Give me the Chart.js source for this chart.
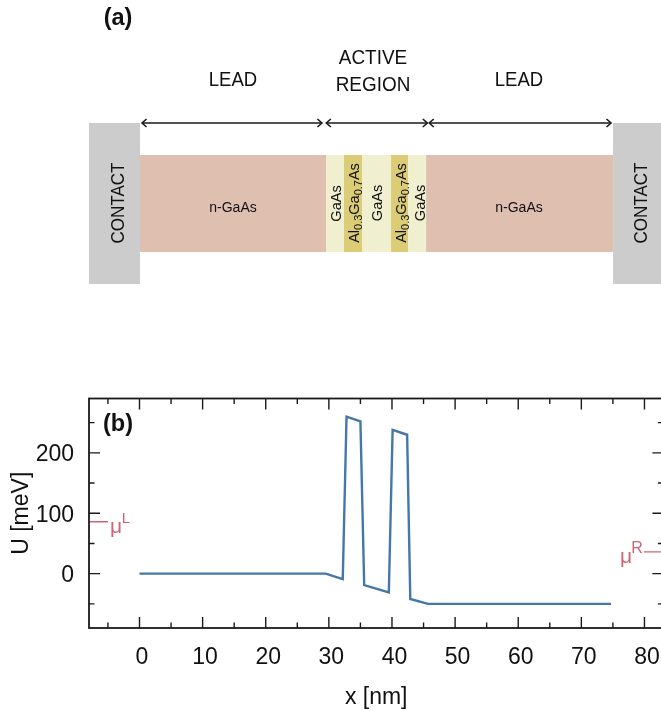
<!DOCTYPE html>
<html>
<head>
<meta charset="utf-8">
<style>
  html, body { margin: 0; padding: 0; background: #fff; overflow: hidden; }
  #wrap { position: relative; width: 661px; height: 711px; overflow: hidden; }
  canvas { position: absolute; left: 0; }
  #schema { top: 0; }
  #potential { top: 300px; }
</style>
<script src="https://cdn.jsdelivr.net/npm/chart.js@4"></script>
</head>
<body>
<div id="wrap">
  <canvas id="schema" width="680" height="300"></canvas>
  <canvas id="potential" width="680" height="411"></canvas>
</div>
<script>
// panel (a): device layout, x in nm, y on a hidden schematic axis
const layerEdges = [0.08, 29.55, 32.4, 35.25, 39.85, 42.55, 45.4, 75.02];
const layerColors = ["#dfbfb0", "#f0efcf", "#dbcc75", "#f0efcf", "#dbcc75", "#f0efcf", "#dfbfb0"];
const layerY = [155, 252];
const contactSpans = [[-8, 0.08], [75.02, 83]];
const contactY = [123, 284];
const arrowSpans = [[0.4, 28.9], [29.6, 45.6], [45.9, 74.7]];
const arrowY = 123;

// panel (b): conduction band profile
const potentialX = [0, 29.5, 32.2, 32.8, 35.0, 35.6, 39.5, 40.1, 42.4, 42.9, 45.7, 74.7];
const potentialU = [0, 0, -9, 260, 252, -19, -31, 238, 230, -42, -50, -50];
const muLeftX = [-8, -5];
const muLeftU = [86, 86];
const muRightX = [79.9, 83];
const muRightU = [36, 36];

const xTicks = [0, 10, 20, 30, 40, 50, 60, 70, 80];
const xMinorTicks = [-5, 5, 15, 25, 35, 45, 55, 65, 75];
const yTicks = [0, 100, 200];
const yMinorTicks = [-50, 50, 150, 250];

const FONT = '"Liberation Sans", Arial, sans-serif';
const INK = "#1a1a1a";
const MU_COLOR = "#cc6677";

function toPoints(xs, ys) {
  return xs.map((x, i) => ({ x, y: ys[i] }));
}

function band(x0, x1, yRange, color) {
  return {
    data: [{ x: x0, y: yRange[0] }, { x: x1, y: yRange[0] }],
    showLine: true,
    fill: { value: yRange[1] },
    backgroundColor: color,
    borderWidth: 0,
    pointRadius: 0
  };
}

function drawText(ctx, text, x, y, size, opts = {}) {
  ctx.save();
  ctx.translate(x, y);
  if (opts.rotate) ctx.rotate(-Math.PI / 2);
  if (opts.squeeze) ctx.scale(opts.squeeze, 1);
  ctx.font = `${opts.bold ? "bold " : ""}${size}px ${FONT}`;
  ctx.fillStyle = opts.color || "#111111";
  ctx.textAlign = "center";
  ctx.textBaseline = "middle";
  ctx.fillText(text, 0, 0);
  ctx.restore();
}

// Al0.3Ga0.7As with real subscripts, rotated
function drawAlloy(ctx, x, y) {
  const runs = [["Al", 14.5, 0], ["0.3", 11, 3], ["Ga", 14.5, 0], ["0.7", 11, 3], ["As", 14.5, 0]];
  ctx.save();
  ctx.translate(x, y);
  ctx.rotate(-Math.PI / 2);
  ctx.fillStyle = "#111111";
  ctx.textBaseline = "alphabetic";
  ctx.textAlign = "left";
  let total = 0;
  runs.forEach(([t, s]) => {
    ctx.font = `${s}px ${FONT}`;
    total += ctx.measureText(t).width;
  });
  let pos = -total / 2;
  runs.forEach(([t, s, dy]) => {
    ctx.font = `${s}px ${FONT}`;
    ctx.fillText(t, pos, 5 + dy);
    pos += ctx.measureText(t).width;
  });
  ctx.restore();
}

function drawChevron(ctx, x, y, dir) {
  ctx.beginPath();
  ctx.moveTo(x + dir * 4.5, y - 4);
  ctx.lineTo(x, y);
  ctx.lineTo(x + dir * 4.5, y + 4);
  ctx.stroke();
}

const schemaLabels = {
  id: "schemaLabels",
  afterDatasetsDraw(chart) {
    const { ctx, scales: { x, y } } = chart;
    ctx.save();
    ctx.strokeStyle = INK;
    ctx.lineWidth = 1.6;
    arrowSpans.forEach(([a, b]) => {
      drawChevron(ctx, x.getPixelForValue(a), y.getPixelForValue(arrowY), 1);
      drawChevron(ctx, x.getPixelForValue(b), y.getPixelForValue(arrowY), -1);
    });
    ctx.restore();

    drawText(ctx, "(a)", 118, 18, 24, { bold: true, squeeze: 0.98 });
    drawText(ctx, "LEAD", 233, 81, 19.5, { squeeze: 0.95 });
    drawText(ctx, "LEAD", 519, 81, 19.5, { squeeze: 0.95 });
    drawText(ctx, "ACTIVE", 373, 59, 19.5, { squeeze: 0.97 });
    drawText(ctx, "REGION", 373, 86, 19.5, { squeeze: 0.97 });
    drawText(ctx, "CONTACT", 118.5, 203, 18.5, { rotate: true, squeeze: 0.92 });
    drawText(ctx, "CONTACT", 641.5, 203, 18.5, { rotate: true, squeeze: 0.92 });
    drawText(ctx, "n-GaAs", 233, 208, 14);
    drawText(ctx, "n-GaAs", 519, 208, 14);
    drawText(ctx, "GaAs", 337, 203.5, 14.5, { rotate: true });
    drawText(ctx, "GaAs", 378, 203, 14.5, { rotate: true });
    drawText(ctx, "GaAs", 421, 203, 14.5, { rotate: true });
    drawAlloy(ctx, 354, 203);
    drawAlloy(ctx, 401, 203);
  }
};

const frameAndTicks = {
  id: "frameAndTicks",
  afterDatasetsDraw(chart) {
    const { ctx, chartArea: a, scales: { x, y } } = chart;
    ctx.save();
    ctx.strokeStyle = INK;
    ctx.lineWidth = 1.8;
    ctx.strokeRect(a.left, a.top, a.right - a.left, a.bottom - a.top);
    ctx.lineWidth = 1.4;
    const tickX = (v, len) => {
      const p = x.getPixelForValue(v);
      ctx.beginPath();
      ctx.moveTo(p, a.bottom);
      ctx.lineTo(p, a.bottom - len);
      ctx.moveTo(p, a.top);
      ctx.lineTo(p, a.top + len);
      ctx.stroke();
    };
    const tickY = (v, len) => {
      const p = y.getPixelForValue(v);
      ctx.beginPath();
      ctx.moveTo(a.left, p);
      ctx.lineTo(a.left + len, p);
      ctx.moveTo(a.right, p);
      ctx.lineTo(a.right - len, p);
      ctx.stroke();
    };
    xTicks.forEach(v => tickX(v, 11));
    xMinorTicks.forEach(v => tickX(v, 5.5));
    yTicks.forEach(v => tickY(v, 11));
    yMinorTicks.forEach(v => tickY(v, 5.5));
    ctx.restore();

    drawText(ctx, "(b)", 118, 124, 24, { bold: true, squeeze: 0.98 });
    // chemical potentials
    const muY = y.getPixelForValue(muLeftU[0]);
    drawText(ctx, "\u03bc", 116, muY + 5, 21, { color: MU_COLOR });
    drawText(ctx, "L", 126, muY - 3, 15, { color: MU_COLOR });
    const muRY = y.getPixelForValue(muRightU[0]);
    drawText(ctx, "\u03bc", 626, muRY + 5, 21, { color: MU_COLOR });
    drawText(ctx, "R", 637, muRY - 3, 16, { color: MU_COLOR });
  }
};

new Chart(document.getElementById("schema"), {
  type: "scatter",
  data: {
    datasets: [
      ...contactSpans.map(([a, b]) => band(a, b, contactY, "#cccccc")),
      ...layerColors.map((c, i) => band(layerEdges[i], layerEdges[i + 1], layerY, c)),
      ...arrowSpans.map(([a, b]) => ({
        data: [{ x: a, y: arrowY }, { x: b, y: arrowY }],
        showLine: true,
        borderColor: INK,
        borderWidth: 1.6,
        pointRadius: 0
      }))
    ]
  },
  options: {
    responsive: false,
    animation: false,
    layout: { padding: { left: 89, right: 16.6, top: 0, bottom: 0 } },
    scales: {
      x: { type: "linear", display: false, min: -8, max: 83 },
      y: { type: "linear", display: false, min: 0, max: 300, reverse: true }
    },
    plugins: { legend: { display: false }, tooltip: { enabled: false } }
  },
  plugins: [schemaLabels]
});

new Chart(document.getElementById("potential"), {
  type: "scatter",
  data: {
    datasets: [
      {
        label: "U",
        data: toPoints(potentialX, potentialU),
        showLine: true,
        borderColor: "#4477aa",
        borderWidth: 2.4,
        pointRadius: 0
      },
      {
        label: "muL",
        data: toPoints(muLeftX, muLeftU),
        showLine: true,
        borderColor: MU_COLOR,
        borderWidth: 1.4,
        pointRadius: 0
      },
      {
        label: "muR",
        data: toPoints(muRightX, muRightU),
        showLine: true,
        borderColor: MU_COLOR,
        borderWidth: 1.4,
        pointRadius: 0
      }
    ]
  },
  options: {
    responsive: false,
    animation: false,
    layout: { padding: { left: 0, right: 16.6, top: 98.5, bottom: 0 } },
    scales: {
      x: {
        type: "linear",
        min: -8,
        max: 83,
        afterBuildTicks: s => { s.ticks = xTicks.map(value => ({ value })); },
        afterFit: s => { s.height = 83; },
        grid: { display: false, drawTicks: false },
        border: { display: false },
        ticks: { color: "#111111", padding: 16, labelOffset: 2.5, maxRotation: 0, autoSkip: false, font: { family: FONT, size: 23 } },
        title: { display: true, text: "x [nm]", color: "#111111", font: { family: FONT, size: 23 }, padding: { top: 0, bottom: 0 } }
      },
      y: {
        type: "linear",
        min: -90,
        max: 290,
        afterBuildTicks: s => { s.ticks = yTicks.map(value => ({ value })); },
        afterFit: s => { s.width = 89; },
        grid: { display: false, drawTicks: false },
        border: { display: false },
        ticks: { color: "#111111", padding: 15, labelOffset: 2, autoSkip: false, font: { family: FONT, size: 23 } },
        title: { display: true, text: "U [meV]", color: "#111111", font: { family: FONT, size: 23 }, padding: { top: 8, bottom: 0 } }
      }
    },
    plugins: { legend: { display: false }, tooltip: { enabled: false } }
  },
  plugins: [frameAndTicks]
});
</script>
</body>
</html>
